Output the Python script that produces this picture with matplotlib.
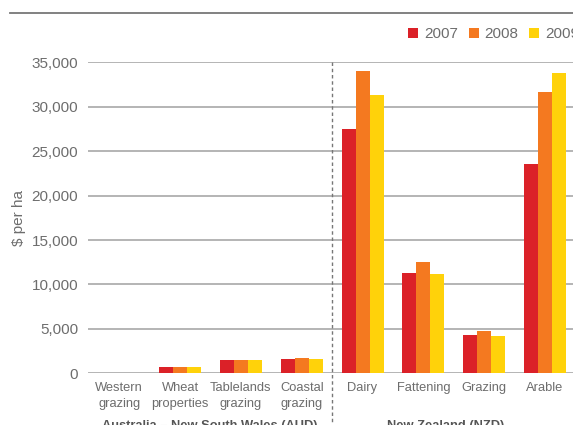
import matplotlib.pyplot as plt
import numpy as np
from matplotlib.patches import Patch
from matplotlib.lines import Line2D

plt.rcParams['font.family'] = ['Liberation Sans', 'DejaVu Sans']

categories = ["Western\ngrazing", "Wheat\nproperties", "Tablelands\ngrazing", "Coastal\ngrazing",
              "Dairy", "Fattening", "Grazing", "Arable"]
years = ["2007", "2008", "2009"]
v2007 = [0, 750, 1500, 1600, 27500, 11300, 4300, 23600]
v2008 = [0, 750, 1500, 1700, 34000, 12550, 4750, 31650]
v2009 = [0, 750, 1500, 1600, 31300, 11200, 4200, 33800]
groups = ["Australia – New South Wales (AUD)", "New Zealand (NZD)"]

colors = ["#db2128", "#f47920", "#ffd20a"]
grey = "#6d6d6d"

W, H = 573, 425
fig = plt.figure(figsize=(W / 100, H / 100), dpi=100)
ax = fig.add_axes([88 / W, 1 - 373.3 / H, 1 - 88 / W, (373.3 - 62.3) / H])

x = np.arange(len(categories))
bw = 0.23
for k, vals in enumerate([v2007, v2008, v2009]):
    ax.bar(x + (k - 1) * bw, vals, width=bw, color=colors[k], zorder=3, linewidth=0)

ax.set_xlim(-0.513, 7.46)
ax.set_ylim(0, 35000)
ax.set_yticks(np.arange(0, 35001, 5000))
ax.set_yticklabels([f"{t:,}" for t in range(0, 35001, 5000)])
ax.yaxis.grid(True, color="#a8a8a8", linewidth=1.2, zorder=0)
ax.set_axisbelow(True)
for s in ax.spines.values():
    s.set_visible(False)
ax.tick_params(axis="y", length=0, pad=7, labelsize=11, labelcolor=grey)
ax.set_xticks(x)
ax.set_xticklabels(categories, fontsize=9.3, color=grey, linespacing=1.45)
ax.tick_params(axis="x", length=0, pad=6)
ax.set_ylabel("$ per ha", fontsize=11, color=grey, labelpad=4)
ax.yaxis.set_label_coords(-0.128, 0.5)

# dashed separator between country groups
ax.plot([3.5, 3.5], [35000, -6000], color="#777777", lw=1, ls=(0, (2.5, 2)),
        clip_on=False, zorder=4)

# group labels (cut by the figure edge)
fig.text(210 / W, 1 - 420.5 / H, groups[0], ha="center", va="top", fontsize=9.3,
         fontweight="bold", color="#555555")
fig.text(446 / W, 1 - 420.5 / H, groups[1], ha="center", va="top", fontsize=9.3,
         fontweight="bold", color="#555555")

# top rule
fig.add_artist(Line2D([10 / W, 1], [1 - 12.5 / H, 1 - 12.5 / H], color="#777777", lw=1.3))

handles = [Patch(facecolor=c, edgecolor="none") for c in colors]
fig.legend(handles, years, loc="center left", bbox_to_anchor=(408 / W, 1 - 34 / H),
           ncol=3, frameon=False, fontsize=11, labelcolor=grey, handlelength=0.65,
           handleheight=0.65, handletextpad=0.4, columnspacing=0.7, borderpad=0,
           borderaxespad=0)

fig.savefig("out.png", dpi=100)
